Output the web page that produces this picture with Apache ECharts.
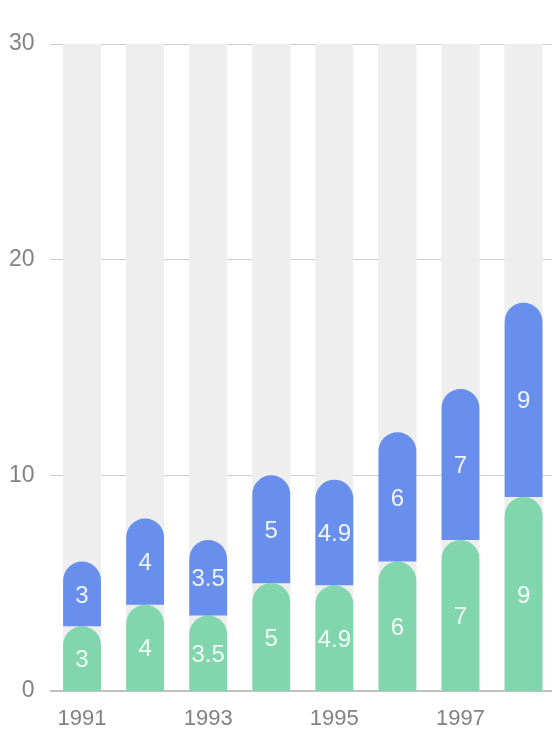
<!DOCTYPE html>
<html>
<head>
<meta charset="utf-8">
<script src="https://cdn.jsdelivr.net/npm/echarts@6/dist/echarts.min.js"></script>
<style>
html,body{margin:0;padding:0;background:#fff;}
#chart{width:552px;height:744px;}
</style>
</head>
<body>
<div id="chart"></div>
<script>
var categories = ['1991','1992','1993','1994','1995','1996','1997','1998'];
var seriesA = [3, 4, 3.5, 5, 4.9, 6, 7, 9];
var seriesB = [3, 4, 3.5, 5, 4.9, 6, 7, 9];
var yTicks = [0, 10, 20, 30];

var chart = echarts.init(document.getElementById('chart'));
var font = "'Liberation Sans', Arial, Helvetica, sans-serif";
function makeSeries(name, data, color) {
  return {
    name: name,
    type: 'bar',
    stack: 'total',
    data: data,
    barWidth: '60%',
    showBackground: true,
    backgroundStyle: { color: '#eeeeee' },
    itemStyle: { color: color, opacity: 0.9, borderRadius: [20, 20, 0, 0] },
    label: {
      show: true,
      position: 'inside',
      color: '#ffffff',
      fontSize: 24,
      fontFamily: font,
      offset: [0, 2]
    }
  };
}
chart.setOption({
  animation: false,
  grid: { left: 50.5, top: 44, bottom: 53, width: 504.6, outerBoundsMode: 'none', containLabel: false },
  xAxis: {
    type: 'category',
    data: categories,
    axisLine: { lineStyle: { color: '#c0c0c0', width: 2 } },
    axisTick: { alignWithLabel: true, interval: 1, length: 6, lineStyle: { color: '#c0c0c0', width: 2 } },
    axisLabel: { interval: 1, color: '#828282', fontSize: 22, fontFamily: font, margin: 17 }
  },
  yAxis: {
    type: 'value',
    min: yTicks[0],
    max: yTicks[yTicks.length - 1],
    interval: 10,
    axisLine: { show: false },
    axisTick: { show: false },
    splitLine: { lineStyle: { color: '#cccccc', width: 1 } },
    axisLabel: { color: '#828282', fontSize: 23, fontFamily: font, margin: 16 }
  },
  series: [
    makeSeries('A', seriesA, '#76d3a5'),
    makeSeries('B', seriesB, '#5984ea')
  ]
});
</script>
</body>
</html>
